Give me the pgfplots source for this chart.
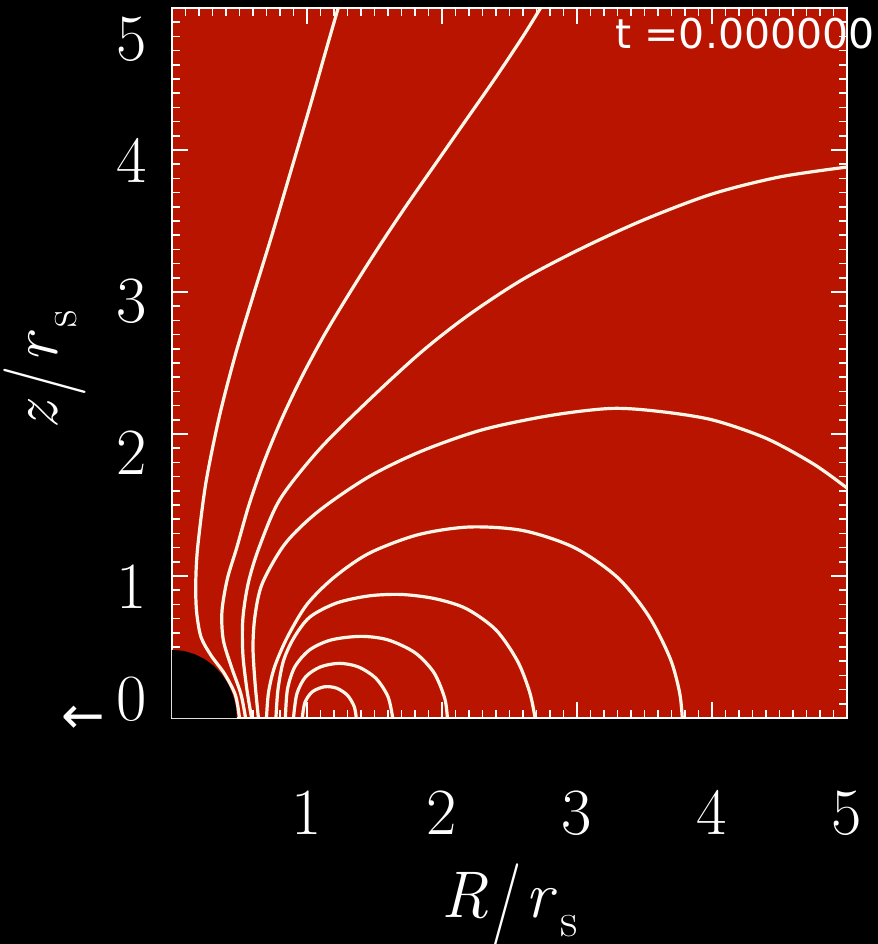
\documentclass[border=0pt]{standalone}
\usepackage{fontspec}
\usepackage{graphicx}
\usepackage{pgfplots}
\pgfplotsset{compat=1.18}
\newfontfamily\dejavu{DejaVu Sans}
\definecolor{fieldred}{RGB}{184,20,0}
\definecolor{fline}{RGB}{255,246,232}
\pgfplotsset{fl/.style={fline, line width=1.6pt, smooth, mark=none}}
\newcommand{\bigslash}{\raisebox{-0.12em}{\scalebox{1}[1.25]{/}}}
\newcommand{\rs}{\textit{r}\kern0.05em\raisebox{-0.28em}{\fontsize{24}{26}\selectfont s}}
\begin{document}
\begin{tikzpicture}
\path[use as bounding box, fill=black] (-86pt,-113pt) rectangle (353pt,359pt);
\begin{axis}[
  at={(0pt,0pt)}, anchor=south west,
  scale only axis, width=337.5pt, height=355pt,
  xmin=0, xmax=5, ymin=0, ymax=5,
  axis background/.style={fill=fieldred},
  axis line style={white, line width=1pt},
  tick align=inside,
  major tick length=8pt, minor tick length=4pt,
  tick style={white, line width=0.8pt},
  xtick={0,1,2,3,4,5}, xticklabels={{},1,2,3,4,5},
  ytick={0,1,2,3,4,5},
  yticklabels={\raisebox{-1pt}{0},\raisebox{-16pt}{1},\raisebox{-20pt}{2},\raisebox{-15pt}{3},\raisebox{-16pt}{4},\raisebox{-26pt}{5}},
  minor x tick num=9, minor y tick num=9,
  tick label style={font=\fontsize{33}{38}\selectfont, text=white, inner sep=0pt},
  xticklabel style={anchor=base, yshift=-58pt},
  yticklabel style={anchor=base east, xshift=-12.5pt},
  xlabel={\textit{R}\kern0.05em\bigslash\kern0.05em\rs},
  ylabel={\textit{z}\kern0.05em\bigslash\kern0.05em\rs},
  label style={font=\fontsize{33}{38}\selectfont, text=white},
  xlabel style={at={([yshift=-93.5pt]axis description cs:0.5,0)}, anchor=center},
  ylabel style={at={([xshift=-63.5pt]axis description cs:0,0.49)}, anchor=center},
]
% star (black quarter disk)
\addplot[fill=black, draw=none, mark=none] coordinates {
(0,0) (0.48,0) (0.473,0.083) (0.451,0.164) (0.416,0.24) (0.368,0.309) (0.309,0.368)
(0.24,0.416) (0.164,0.451) (0.083,0.473) (0,0.48) (0,0)};
% open field lines to the top
\addplot[fl] coordinates {
(0.50,0) (0.47,0.16) (0.39,0.31) (0.29,0.44) (0.215,0.57) (0.182,0.75) (0.176,0.95)
(0.19,1.2) (0.25,1.65) (0.35,2.12) (0.47,2.56) (0.60,2.97) (0.74,3.40) (0.88,3.85)
(1.02,4.30) (1.14,4.70) (1.24,5.03)};
\addplot[fl] coordinates {
(0.545,0) (0.51,0.17) (0.44,0.36) (0.38,0.55) (0.37,0.75) (0.41,0.98) (0.48,1.2)
(0.57,1.5) (0.68,1.8) (0.81,2.1) (0.96,2.4) (1.13,2.7) (1.32,3.0) (1.52,3.3)
(1.73,3.6) (1.95,3.9) (2.17,4.2) (2.39,4.5) (2.60,4.8) (2.73,5.0) (2.76,5.05)};
% open field lines to the right
\addplot[fl] coordinates {
(0.59,0) (0.555,0.2) (0.525,0.45) (0.525,0.7) (0.565,0.95) (0.645,1.2) (0.80,1.54)
(1.09,1.89) (1.46,2.24) (1.85,2.58) (2.2,2.84) (2.6,3.09) (3.04,3.31) (3.5,3.51)
(4.0,3.69) (4.5,3.81) (5.0,3.88)};
\addplot[fl] coordinates {
(0.64,0) (0.615,0.25) (0.60,0.5) (0.615,0.72) (0.67,0.95) (0.84,1.23) (1.09,1.46)
(1.46,1.70) (1.85,1.88) (2.3,2.03) (2.8,2.13) (3.25,2.18) (3.6,2.16) (4.0,2.10)
(4.4,1.97) (4.75,1.79) (5.0,1.62)};
% closed loops
\addplot[fl] coordinates {
(0.70,0) (0.715,0.18) (0.76,0.36) (0.855,0.57) (1.0,0.80) (1.2,0.99) (1.46,1.16)
(1.82,1.29) (2.2,1.345) (2.6,1.32) (2.98,1.20) (3.3,0.99) (3.53,0.72) (3.69,0.42)
(3.76,0.18) (3.78,0)};
\addplot[fl] coordinates {
(0.77,0) (0.785,0.2) (0.825,0.40) (0.90,0.56) (1.02,0.71) (1.22,0.81) (1.46,0.86)
(1.70,0.87) (1.95,0.84) (2.18,0.77) (2.40,0.62) (2.56,0.40) (2.65,0.18) (2.69,0)};
\addplot[fl] coordinates {
(0.84,0) (0.855,0.2) (0.91,0.36) (1.02,0.48) (1.18,0.55) (1.40,0.575) (1.60,0.55)
(1.80,0.46) (1.94,0.32) (2.02,0.14) (2.04,0)};
\addplot[fl] coordinates {
(0.90,0) (0.925,0.17) (0.99,0.29) (1.10,0.36) (1.24,0.385) (1.38,0.36) (1.51,0.28)
(1.60,0.15) (1.635,0)};
\addplot[fl] coordinates {
(0.965,0) (0.985,0.11) (1.04,0.185) (1.13,0.22) (1.22,0.21) (1.30,0.16) (1.35,0.08)
(1.365,0)};
\end{axis}
\node[text=white, font=\dejavu\fontsize{26}{30}\selectfont] at (-44.5pt,-1pt) {←};
\node[text=white, anchor=north east, inner sep=0pt, font=\dejavu\fontsize{20.5}{24}\selectfont] at (351.5pt,350pt) {t =0.000000};
\end{tikzpicture}
\end{document}
